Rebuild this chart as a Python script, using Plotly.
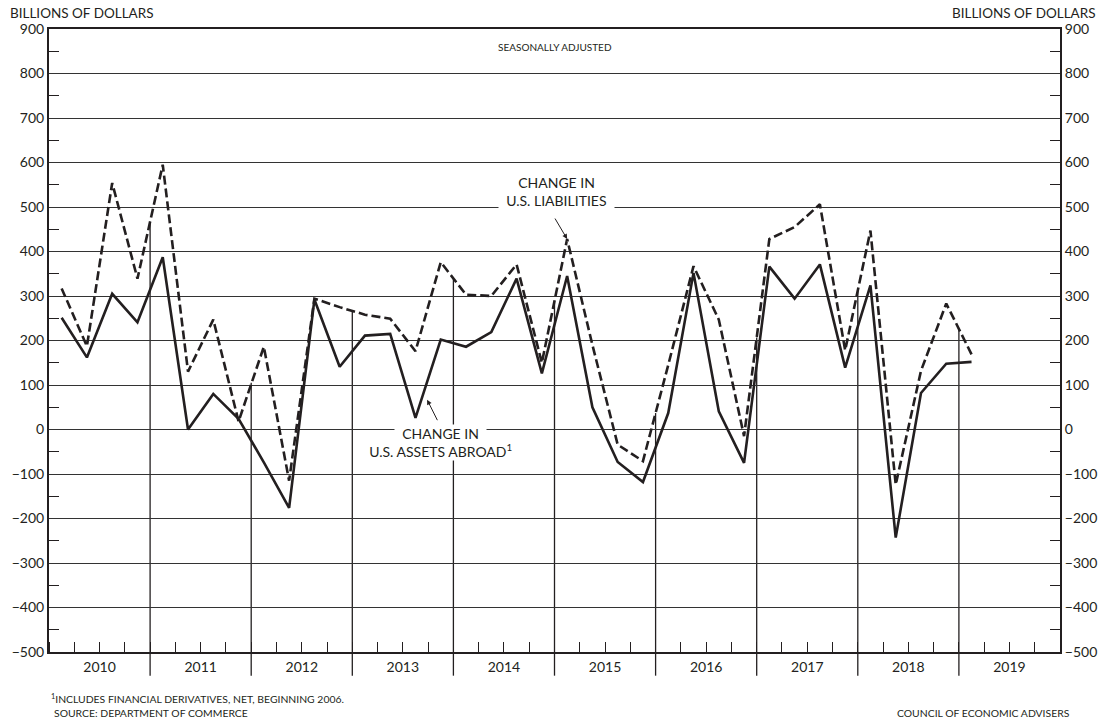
import numpy as np
import plotly.graph_objects as go

# quarterly data, 2010Q1 - 2019Q1 (billions of dollars, seasonally adjusted)
years = [2010, 2011, 2012, 2013, 2014, 2015, 2016, 2017, 2018, 2019]
liabilities = [317, 187, 554, 339,
               595, 130, 247, 18,
               186, -115, 294, 275,
               258, 249, 176, 376,
               303, 300, 371, 150,
               428, 190, -34, -71,
               145, 367, 247, -15,
               428, 455, 506, 178,
               447, -124, 132, 283,
               169]
assets = [251, 162, 305, 241,
          387, 0, 80, 24,
          -74, -176, 292, 141,
          211, 215, 26, 202,
          186, 219, 339, 126,
          345, 50, -73, -118,
          37, 352, 41, -75,
          366, 294, 371, 139,
          324, -243, 82, 148,
          152]

# quarters plotted at the middle of each quarter
xq = [years[0] + (i + 0.5) / 4 for i in range(len(assets))]

INK = "#231f20"
FONT = "Lato, 'Noto Sans', sans-serif"

# plot area in pixels
W, H = 1105, 719
L, R, T, B = 49, 45, 29, 67
PW, PH = W - L - R, H - T - B


def px(x):
    return (x - L) / PW


def py(y):
    return (H - B - y) / PH


fig = go.Figure()

fig.add_trace(go.Scatter(x=xq, y=liabilities, mode="lines",
                         line=dict(color=INK, width=2.6, dash="9px,4px"),
                         showlegend=False, hoverinfo="skip"))
fig.add_trace(go.Scatter(x=xq, y=assets, mode="lines",
                         line=dict(color=INK, width=2.6),
                         showlegend=False, hoverinfo="skip"))
# dummy trace for the right hand axis
fig.add_trace(go.Scatter(x=[xq[0]], y=[assets[0]], yaxis="y2", mode="lines",
                         line=dict(width=0), showlegend=False, hoverinfo="skip"))

# year lines: from the bottom up to the higher of the two series
top = np.maximum(liabilities, assets)
shapes = []
for yr in years[1:]:
    ytop = float(np.interp(yr, xq, top))
    shapes.append(dict(type="line", xref="x", yref="y", x0=yr, x1=yr,
                       y0=-500, y1=ytop, layer="below",
                       line=dict(color=INK, width=1.3)))
    # separator below the axis
    shapes.append(dict(type="line", xref="x", yref="paper", x0=yr, x1=yr,
                       y0=0, y1=-0.038, line=dict(color=INK, width=1.3)))

ann = []


def note(text, x, y, anchor="left", size=10.4):
    ann.append(dict(text=text, x=px(x), y=py(y), xref="paper", yref="paper",
                    xanchor=anchor, yanchor="middle", showarrow=False,
                    font=dict(size=size)))


note("BILLIONS OF DOLLARS", 8, 13, "left", 13.5)
note("BILLIONS OF DOLLARS", 1098, 13, "right", 13.5)
note("SEASONALLY ADJUSTED", 555, 47, "center", 10)
note("<sup>1</sup>INCLUDES FINANCIAL DERIVATIVES, NET, BEGINNING 2006.", 49, 698)
note("SOURCE: DEPARTMENT OF COMMERCE", 52, 713)
note("COUNCIL OF ECONOMIC ADVISERS", 1072, 713, "right")

PAD = "\u00a0\u00a0"


def label(text, x, y):
    ann.append(dict(text=PAD + text + PAD, x=x, y=y, xref="x", yref="y", showarrow=False,
                    bgcolor="white", borderpad=0, font=dict(size=14)))


# series labels, one line each so only the text itself masks the grid;
# lower line first so the upper one is drawn on top
label("U.S. LIABILITIES", 2015.015, 514)
label("CHANGE IN", 2015.015, 555)
ann.append(dict(text="", x=xq[20], y=liabilities[20], xref="x", yref="y", ax=-13, ay=-22,
                showarrow=True, arrowhead=2, arrowsize=1, arrowwidth=1, arrowcolor=INK))
label("U.S. ASSETS ABROAD<sup>1</sup>", 2013.87, -47)
label("CHANGE IN", 2013.87, -8)
ann.append(dict(text="", x=2013.74, y=67, xref="x", yref="y", ax=11, ay=22,
                showarrow=True, arrowhead=2, arrowsize=1, arrowwidth=1, arrowcolor=INK))

yticks = list(range(-500, 901, 100))
ytext = [f"{v:d}".replace("-", "\u2212") for v in yticks]

yax = dict(range=[-500, 900], tickvals=yticks, ticktext=ytext, ticks="",
           showgrid=True, gridcolor="#333333", gridwidth=1.2, zeroline=False,
           showline=True, linecolor=INK, linewidth=2, automargin=False,
           tickfont=dict(size=14), fixedrange=True,
           minor=dict(tickmode="linear", tick0=50, dtick=100, ticks="inside",
                      ticklen=10, tickwidth=1.3, tickcolor=INK, showgrid=False))

fig.update_layout(
    width=W, height=H,
    margin=dict(l=L, r=R, t=T, b=B, autoexpand=False),
    paper_bgcolor="white", plot_bgcolor="white",
    font=dict(family=FONT, color=INK),
    xaxis=dict(range=[2010, 2020], tickvals=[y + 0.5 for y in years],
               ticktext=[str(y) for y in years], ticks="", showgrid=False,
               zeroline=False, showline=True, linecolor=INK, linewidth=2,
               mirror=True, tickfont=dict(size=14), ticklabelstandoff=1,
               automargin=False, fixedrange=True,
               minor=dict(tickmode="linear", tick0=2010, dtick=0.25, ticks="inside",
                          ticklen=10, tickwidth=1.3, tickcolor=INK, showgrid=False)),
    yaxis=yax,
    yaxis2=dict(yax, overlaying="y", side="right", showgrid=False),
    shapes=shapes,
    annotations=ann,
)

fig.write_html("out.html", config={"displayModeBar": False},
               post_script="document.body.style.margin='0';"
                           "document.body.style.overflow='hidden';")
